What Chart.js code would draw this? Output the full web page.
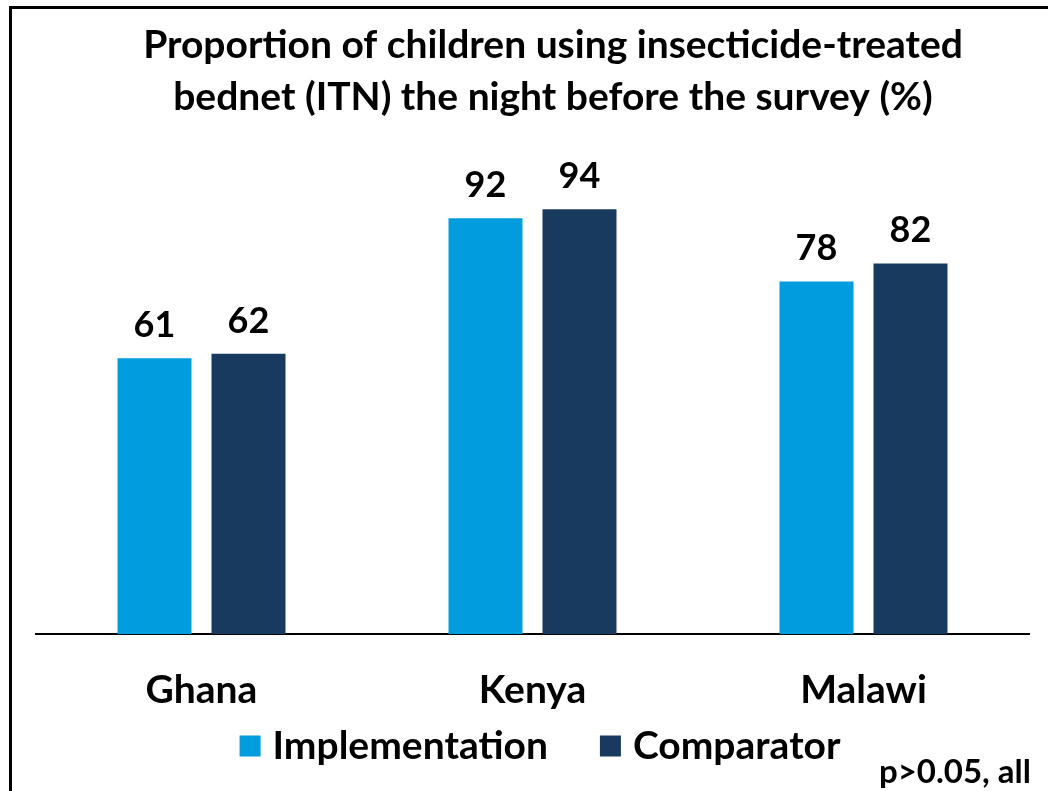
<!DOCTYPE html>
<html>
<head>
<meta charset="utf-8">
<script src="https://cdn.jsdelivr.net/npm/chart.js@4/dist/chart.umd.min.js"></script>
<style>
    html, body { margin: 0; padding: 0; background: #fff; overflow: hidden; }
    #wrap { position: relative; width: 1048px; height: 791px; }
    #frame { position: absolute; left: 9px; top: 6px; width: 1100px; height: 900px; border: 3px solid #000; }
    #chart { position: absolute; left: 0; top: 0; }
</style>
</head>
<body>
<div id="wrap">
    <div id="frame"></div>
    <canvas id="chart" width="1048" height="791"></canvas>
</div>
<script>
// Chart data
const countries = ['Ghana', 'Kenya', 'Malawi'];
const implementation = [61, 92, 78];
const comparator = [62, 94, 82];
const seriesNames = ['Implementation', 'Comparator'];
const titleLines = ['Proportion of children using insecticide-treated', 'bednet (ITN) the night before the survey (%)'];
const noteText = 'p>0.05, all';

const FONT = 'Lato, "Open Sans", sans-serif';
const colors = ['#009CDE', '#173A5E'];

// Title drawn as two centred lines
const titlePlugin = {
    id: 'titleLines',
    afterDraw(chart) {
        const ctx = chart.ctx;
        ctx.save();
        ctx.fillStyle = '#000';
        ctx.textAlign = 'center';
        ctx.textBaseline = 'middle';
        ctx.font = 'bold 39px ' + FONT;
        ctx.fillText(titleLines[0], 553, 45);
        ctx.fillText(titleLines[1], 553, 97);
        ctx.restore();
    }
};

// Value labels above each bar
const valueLabels = {
    id: 'valueLabels',
    afterDatasetsDraw(chart) {
        const ctx = chart.ctx;
        ctx.save();
        ctx.fillStyle = '#000';
        ctx.textAlign = 'center';
        ctx.textBaseline = 'alphabetic';
        ctx.font = 'bold 36px ' + FONT;
        chart.data.datasets.forEach((ds, i) => {
            chart.getDatasetMeta(i).data.forEach((bar, j) => {
                ctx.fillText(ds.data[j], bar.x, bar.y - 21);
            });
        });
        ctx.restore();
    }
};

// Legend and footnote
const bottomLegend = {
    id: 'bottomLegend',
    afterDraw(chart) {
        const ctx = chart.ctx;
        const box = 21, boxGap = 12, itemGap = 52, cy = 746;
        ctx.save();
        ctx.font = 'bold 39px ' + FONT;
        ctx.textBaseline = 'middle';
        const widths = seriesNames.map(n => box + boxGap + ctx.measureText(n).width);
        const total = widths[0] + widths[1] + itemGap;
        let x = 540 - total / 2;
        seriesNames.forEach((name, i) => {
            ctx.fillStyle = colors[i];
            ctx.fillRect(x, cy - box / 2, box, box);
            ctx.fillStyle = '#000';
            ctx.textAlign = 'left';
            ctx.fillText(name, x + box + boxGap, cy);
            x += widths[i] + itemGap;
        });
        ctx.font = 'bold 33px ' + FONT;
        ctx.textAlign = 'right';
        ctx.fillText(noteText, 1031, 772);
        ctx.restore();
    }
};

new Chart(document.getElementById('chart'), {
    type: 'bar',
    data: {
        labels: countries,
        datasets: [
            { label: seriesNames[0], data: implementation, backgroundColor: colors[0] },
            { label: seriesNames[1], data: comparator, backgroundColor: colors[1] }
        ]
    },
    options: {
        responsive: false,
        animation: false,
        events: [],
        layout: { padding: { top: 182, left: 36, right: 19, bottom: 44 } },
        datasets: { bar: { categoryPercentage: 0.568, barPercentage: 0.787 } },
        plugins: {
            legend: { display: false },
            title: { display: false },
            tooltip: { enabled: false }
        },
        scales: {
            x: {
                grid: { display: false, drawTicks: false },
                border: { display: true, color: '#000', width: 2 },
                ticks: { color: '#000', padding: 33, font: { family: FONT, size: 39, weight: 'bold' } }
            },
            y: { display: false, min: 0, max: 100 }
        }
    },
    plugins: [titlePlugin, valueLabels, bottomLegend]
});
</script>
</body>
</html>
